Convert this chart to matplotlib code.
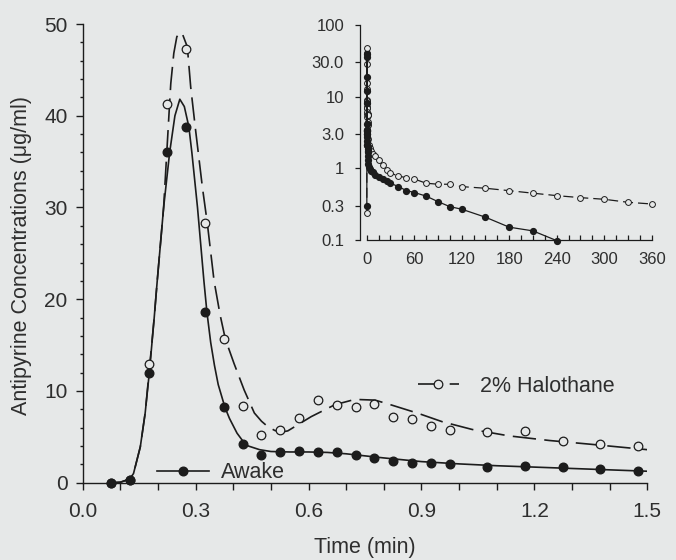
import matplotlib
matplotlib.use("Agg")
import matplotlib.pyplot as plt
from matplotlib.ticker import MultipleLocator, FixedLocator, FixedFormatter, NullLocator
from matplotlib.lines import Line2D

plt.rcParams['font.family'] = ['Liberation Sans', 'DejaVu Sans']

# ── main panel: sampled points (min, ug/ml) ──
t_obs = [0.075, 0.125, 0.175, 0.225, 0.275, 0.325, 0.375, 0.425, 0.475, 0.525,
         0.575, 0.625, 0.675, 0.725, 0.775, 0.825, 0.875, 0.925, 0.975,
         1.075, 1.175, 1.275, 1.375, 1.475]
awake_obs = [0.0, 0.3, 12.0, 36.1, 38.8, 18.6, 8.2, 4.2, 3.0, 3.3,
             3.45, 3.35, 3.4, 3.0, 2.7, 2.4, 2.15, 2.1, 2.0,
             1.75, 1.85, 1.7, 1.5, 1.3]
t_hal = [0.075, 0.125, 0.175, 0.225, 0.275, 0.325, 0.375, 0.425, 0.475, 0.525,
         0.575, 0.625, 0.675, 0.725, 0.775, 0.825, 0.875, 0.925, 0.975,
         1.075, 1.175, 1.275, 1.375, 1.475]
halo_obs = [0.0, 0.24, 12.9, 41.3, 47.3, 28.3, 15.65, 8.4, 5.2, 5.7,
            7.0, 9.0, 8.5, 8.2, 8.6, 7.2, 6.9, 6.2, 5.75,
            5.55, 5.6, 4.5, 4.2, 4.0]

# fitted curves
t_fit_awake = [0.075, 0.10, 0.125, 0.135, 0.153, 0.166, 0.177, 0.19, 0.198, 0.215,
               0.231, 0.245, 0.258, 0.27, 0.282, 0.29, 0.305, 0.322, 0.33, 0.34,
               0.35, 0.36, 0.378, 0.39, 0.41, 0.428, 0.44, 0.47, 0.50, 0.55,
               0.60, 0.65, 0.70, 0.80, 0.90, 1.00, 1.10, 1.20, 1.30, 1.40, 1.50]
c_fit_awake = [0.0, 0.05, 0.4, 1.0, 3.9, 7.6, 12.0, 18.0, 22.0, 30.0,
               36.0, 40.0, 41.8, 41.0, 38.8, 36.0, 30.0, 22.0, 18.6, 15.3,
               12.8, 10.7, 8.2, 7.0, 5.4, 4.4, 4.0, 3.6, 3.4, 3.35,
               3.35, 3.3, 3.15, 2.7, 2.3, 2.05, 1.85, 1.7, 1.55, 1.4, 1.25]
t_fit_halo = [0.075, 0.10, 0.125, 0.135, 0.153, 0.166, 0.177, 0.19, 0.198, 0.215,
              0.229, 0.234, 0.242, 0.25, 0.258, 0.266, 0.278, 0.287, 0.300, 0.318,
              0.331, 0.349, 0.365, 0.379, 0.402, 0.429, 0.456, 0.475, 0.492, 0.51,
              0.527, 0.545, 0.563, 0.607, 0.67, 0.723, 0.777, 0.821, 0.892, 0.955,
              1.035, 1.133, 1.24, 1.347, 1.50]
c_fit_halo = [0.0, 0.05, 0.4, 1.0, 3.9, 7.6, 12.3, 18.0, 22.0, 30.0,
              40.0, 43.5, 46.8, 48.6, 49.1, 48.8, 47.5, 43.1, 38.4, 32.2,
              28.3, 22.0, 18.3, 15.65, 13.0, 10.1, 7.6, 6.7, 6.1, 5.7,
              5.5, 5.65, 6.1, 7.2, 8.5, 9.08, 9.0, 8.46, 7.55, 6.65,
              5.8, 5.1, 4.6, 4.2, 3.6]

# ── inset: later samples (min) ──
t_late_awake = [2, 3, 4, 5, 7.5, 10, 15, 20, 25, 30, 40, 50, 60, 75, 90, 105,
                120, 150, 180, 210, 240]
c_late_awake = [1.15, 1.05, 0.98, 0.93, 0.88, 0.82, 0.76, 0.7, 0.66, 0.62, 0.556,
                0.49, 0.46, 0.41, 0.343, 0.292, 0.269, 0.208, 0.151, 0.134, 0.098]
t_late_halo = [2, 3, 4, 5, 7.5, 10, 15, 20, 25, 30, 40, 50, 60, 75, 90, 105,
               120, 150, 180, 210, 240, 270, 300, 330, 360]
c_late_halo = [2.6, 2.1, 1.9, 1.75, 1.6, 1.5, 1.3, 1.1, 0.95, 0.86, 0.78, 0.74,
               0.71, 0.62, 0.60, 0.60, 0.556, 0.527, 0.488, 0.45, 0.416, 0.39,
               0.37, 0.336, 0.318]
inset_yticks = [0.1, 0.3, 1, 3, 10, 30, 100]
inset_ylabels = ["0.1", "0.3", "1", "3.0", "10", "30.0", "100"]

BG = "#e6e8e8"
INK = "#1c1c1c"
TXT = "#2e2e2e"
W, H = 676, 560

fig = plt.figure(figsize=(W / 100, H / 100), dpi=100, facecolor=BG)

# ── main axes ──
ax = fig.add_axes([82.7 / W, 77.3 / H, 564.6 / W, 458.7 / H])
ax.set_facecolor(BG)
ax.plot(t_fit_awake, c_fit_awake, color=INK, lw=1.2)
ax.plot(t_fit_halo, c_fit_halo, color=INK, lw=1.2, dashes=(14, 5))
ax.plot(t_hal, halo_obs, "o", mfc=BG, mec=INK, mew=0.9, ms=6.2, clip_on=False, zorder=4)
ax.plot(t_obs, awake_obs, "o", color=INK, ms=6.2, clip_on=False, zorder=5)
ax.set_xlim(0, 1.5)
ax.set_ylim(0, 50)
for s in ("top", "right"):
    ax.spines[s].set_visible(False)
for s in ("left", "bottom"):
    ax.spines[s].set_color(INK)
    ax.spines[s].set_linewidth(1.0)
ax.xaxis.set_major_locator(MultipleLocator(0.3))
ax.xaxis.set_minor_locator(MultipleLocator(0.1))
ax.yaxis.set_major_locator(MultipleLocator(10))
ax.yaxis.set_minor_locator(MultipleLocator(2))
ax.xaxis.set_major_formatter(plt.FuncFormatter(lambda v, p: f"{v:.1f}"))
ax.tick_params(axis="x", which="both", direction="out", length=5, width=1.0,
               color=INK, labelsize=15, labelcolor=TXT, pad=9)
ax.tick_params(axis="y", which="major", direction="out", length=5, width=1.0,
               color=INK, labelsize=15, labelcolor=TXT, pad=6)
ax.tick_params(axis="y", which="minor", direction="out", length=2.5, width=1.0, color=INK)

fig.text(21.7 / W, 1 - 256 / H, "Antipyrine Concentrations (μg/ml)", rotation=90,
         ha="center", va="center", fontsize=15.5, color=TXT)
fig.text(365 / W, 1 - 548 / H, "Time (min)", ha="center", va="center",
         fontsize=15.5, color=TXT)

h_awake = Line2D([], [], color=INK, lw=1.2, marker="o", ms=6.2)
h_halo = Line2D([], [], color=INK, lw=1.2, dashes=(14, 5), marker="o",
                mfc=BG, mec=INK, mew=0.9, ms=6.2)
leg1 = fig.legend(handles=[h_awake], labels=["Awake"], loc="center left",
                  bbox_to_anchor=(157 / W, 1 - 473 / H), frameon=False,
                  borderpad=0, borderaxespad=0, handlelength=2.4,
                  handletextpad=0.55, numpoints=1, fontsize=15.5, labelcolor=TXT)
leg2 = fig.legend(handles=[h_halo], labels=["2% Halothane"], loc="center left",
                  bbox_to_anchor=(418 / W, 1 - 386 / H), frameon=False,
                  borderpad=0, borderaxespad=0, handlelength=1.9,
                  handletextpad=1.0, numpoints=1, fontsize=15.5, labelcolor=TXT)

# ── inset (log scale) ──
ia = fig.add_axes([360 / W, 1 - 240 / H, 291.7 / W, 215 / H])
ia.set_facecolor("none")
ta = [t for t, c in zip(t_obs, awake_obs) if c > 0] + t_late_awake
ca = [c for c in awake_obs if c > 0] + c_late_awake
th = [t for t, c in zip(t_hal, halo_obs) if c > 0] + t_late_halo
ch = [c for c in halo_obs if c > 0] + c_late_halo
ia.plot(th, ch, "-o", color=INK, lw=0.9, dashes=(8, 4), ms=4.2,
        mfc=BG, mec=INK, mew=0.7, clip_on=False)
ia.plot(ta, ca, "-o", color=INK, lw=0.9, ms=4.2, clip_on=False)
ia.set_yscale("log")
ia.set_xlim(-8.5, 360)
ia.set_ylim(0.1, 100)
for s in ("top", "right"):
    ia.spines[s].set_visible(False)
for s in ("left", "bottom"):
    ia.spines[s].set_color(INK)
    ia.spines[s].set_linewidth(0.9)
ia.spines["bottom"].set_bounds(0, 360)
ia.xaxis.set_major_locator(MultipleLocator(60))
ia.xaxis.set_minor_locator(MultipleLocator(15))
ia.yaxis.set_major_locator(FixedLocator(inset_yticks))
ia.yaxis.set_major_formatter(FixedFormatter(inset_ylabels))
ia.yaxis.set_minor_locator(NullLocator())
ia.tick_params(axis="x", which="both", direction="in", length=3.5, width=0.9,
               color=INK, labelsize=12, labelcolor=TXT, pad=9)
ia.tick_params(axis="y", which="major", direction="out", length=3.5, width=0.9,
               color=INK, labelsize=12, labelcolor=TXT, pad=8)

fig.savefig("out.png", dpi=100, facecolor=BG)
